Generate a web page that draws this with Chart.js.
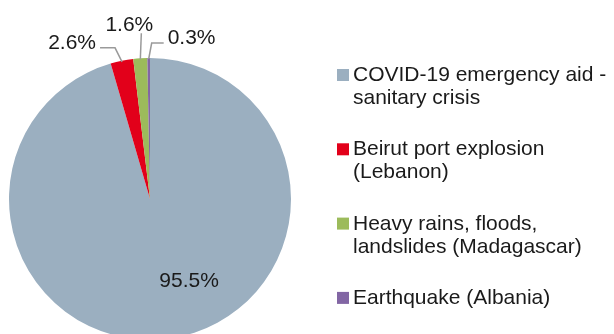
<!DOCTYPE html>
<html>
<head>
<meta charset="utf-8">
<script src="https://cdn.jsdelivr.net/npm/chart.js@4/dist/chart.umd.min.js"></script>
<style>
  html, body { margin: 0; padding: 0; background: #fff; overflow: hidden; }
  #wrap { width: 614px; height: 334px; overflow: hidden; position: relative; }
  canvas { display: block; }
</style>
</head>
<body>
<div id="wrap"><canvas id="c" width="614" height="360"></canvas></div>
<script>
// Emergency aid by event (share of total, %)
const categories = [
  ['COVID-19 emergency aid -', 'sanitary crisis'],
  ['Beirut port explosion', '(Lebanon)'],
  ['Heavy rains, floods,', 'landslides (Madagascar)'],
  ['Earthquake (Albania)']
];
const shares = [95.5, 2.6, 1.6, 0.3];
const valueLabels = ['95.5%', '2.6%', '1.6%', '0.3%'];
const colors = ['#9bafc0', '#e2001a', '#9cbb5b', '#8266a4'];

const FONT = '21px "Liberation Sans", Arial, Helvetica, sans-serif';
const TEXT = '#1a1a1a';

// Label placement per slice: 'inside' labels sit at an offset from the centre
// (in units of the radius); 'leader' labels hang off the rim with an elbow line.
const labelPlacement = [
  { type: 'inside', dx: 0.277, dy: 0.58 },
  { type: 'leader', elbow: [-7, -14], end: [-15, 0], align: 'right', gap: 4, base: 1 },
  { type: 'leader', elbow: [1, -26], end: [0, 0], align: 'center', gap: 2, base: 0 },
  { type: 'leader', elbow: [3, -16], end: [12, 0], align: 'left', gap: 4, base: 1 }
];

const sliceLabels = {
  id: 'sliceLabels',
  afterDatasetsDraw(chart) {
    const ctx = chart.ctx;
    const meta = chart.getDatasetMeta(0);
    ctx.save();
    ctx.font = FONT;
    ctx.fillStyle = TEXT;
    meta.data.forEach((arc, i) => {
      const p = labelPlacement[i];
      const { x, y, outerRadius, startAngle, endAngle } = arc.getProps(['x', 'y', 'outerRadius', 'startAngle', 'endAngle'], true);
      if (p.type === 'inside') {
        ctx.textAlign = 'center';
        ctx.textBaseline = 'middle';
        ctx.fillText(valueLabels[i], x + p.dx * outerRadius, y + p.dy * outerRadius);
        return;
      }
      const mid = (startAngle + endAngle) / 2;
      const ax = x + Math.cos(mid) * (outerRadius - 1);
      const ay = y + Math.sin(mid) * (outerRadius - 1);
      const ex = ax + p.elbow[0], ey = ay + p.elbow[1];
      const fx = ex + p.end[0], fy = ey + p.end[1];
      ctx.strokeStyle = '#9a9a9a';
      ctx.lineWidth = 1.5;
      ctx.beginPath();
      ctx.moveTo(ax, ay);
      ctx.lineTo(ex, ey);
      ctx.lineTo(fx, fy);
      ctx.stroke();
      ctx.textBaseline = 'alphabetic';
      if (p.align === 'right') {
        ctx.textAlign = 'right';
        ctx.fillText(valueLabels[i], fx - p.gap, fy + p.base);
      } else if (p.align === 'left') {
        ctx.textAlign = 'left';
        ctx.fillText(valueLabels[i], fx + p.gap, fy + p.base);
      } else {
        ctx.textAlign = 'center';
        ctx.fillText(valueLabels[i], fx - 12, fy - p.gap);
      }
    });
    ctx.restore();
  }
};

// Legend on the right with wrapped, multi-line entries
const sideLegend = {
  id: 'sideLegend',
  afterDraw(chart) {
    const ctx = chart.ctx;
    const left = 337, box = 12, textX = 353;
    const firstBaseline = 81, itemStep = 74.3, lineStep = 23;
    ctx.save();
    ctx.font = FONT;
    ctx.textAlign = 'left';
    ctx.textBaseline = 'alphabetic';
    chart.data.labels.forEach((lines, i) => {
      const base = firstBaseline + i * itemStep;
      ctx.fillStyle = chart.data.datasets[0].backgroundColor[i];
      ctx.fillRect(left, base - box, box, box);
      ctx.fillStyle = TEXT;
      lines.forEach((t, k) => ctx.fillText(t, textX, base + k * lineStep));
    });
    ctx.restore();
  }
};

new Chart(document.getElementById('c'), {
  type: 'pie',
  data: {
    labels: categories,
    datasets: [{
      data: shares,
      backgroundColor: colors,
      borderWidth: 0
    }]
  },
  options: {
    responsive: false,
    animation: false,
    layout: { padding: { left: 9, right: 323, top: 58, bottom: 20 } },
    plugins: {
      legend: { display: false },
      tooltip: { enabled: false }
    }
  },
  plugins: [sliceLabels, sideLegend]
});
</script>
</body>
</html>
